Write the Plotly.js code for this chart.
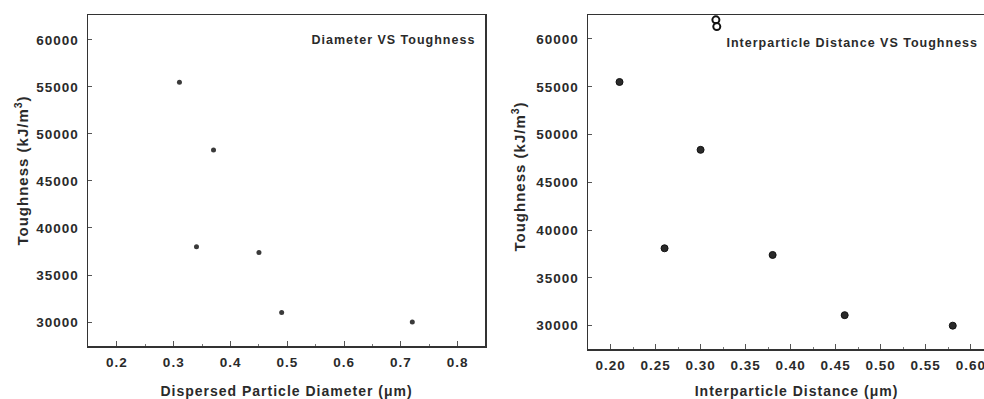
<!DOCTYPE html>
<html>
<head>
<meta charset="utf-8">
<script src="https://cdn.plot.ly/plotly-3.0.1.min.js"></script>
<style>
html,body{margin:0;padding:0;background:#fff;overflow:hidden;}
#chart{width:1010px;height:399px;}
#chart svg text{letter-spacing:1px;}
</style>
</head>
<body>
<div id="chart"></div>
<script>
// Left panel: dispersed particle diameter vs toughness
const diameter = [0.31, 0.34, 0.37, 0.45, 0.49, 0.72];
const toughnessD = [55500, 38000, 48300, 37400, 31000, 30000];
// Right panel: interparticle distance vs toughness
const distance = [0.21, 0.26, 0.30, 0.38, 0.46, 0.58];
const toughnessI = [55500, 38100, 48400, 37400, 31100, 30000];
// Open markers at top of right panel
const openX = [0.317, 0.318];
const openY = [62000, 61300];

const leftXTicks = [0.2, 0.3, 0.4, 0.5, 0.6, 0.7, 0.8];
const leftXLabels = ['0.2', '0.3', '0.4', '0.5', '0.6', '0.7', '0.8'];
const rightXTicks = [0.20, 0.25, 0.30, 0.35, 0.40, 0.45, 0.50, 0.55, 0.60];
const rightXLabels = ['0.20', '0.25', '0.30', '0.35', '0.40', '0.45', '0.50', '0.55', '0.60'];
const yTicks = [30000, 35000, 40000, 45000, 50000, 55000, 60000];
const yLabels = ['30000', '35000', '40000', '45000', '50000', '55000', '60000'];

const W = 1010, H = 399;
const FONT = '"Liberation Sans", Arial, sans-serif';
const ink = '#2a2a2a';

const traces = [
  {x: diameter, y: toughnessD, type: 'scatter', mode: 'markers', xaxis: 'x', yaxis: 'y',
   marker: {size: 5, color: '#3a3a3a'}, showlegend: false},
  {x: distance, y: toughnessI, type: 'scatter', mode: 'markers', xaxis: 'x2', yaxis: 'y2',
   marker: {size: 7, color: '#2a2a2a', line: {color: '#111', width: 1}}, showlegend: false},
  {x: openX, y: openY, type: 'scatter', mode: 'markers', xaxis: 'x2', yaxis: 'y2',
   marker: {size: 7, symbol: 'circle-open', color: '#111', line: {width: 2}}, showlegend: false, cliponaxis: false}
];

const tickFont = {family: FONT, size: 13.5, color: ink, weight: 'bold'};
const titleFont = {family: FONT, size: 14, color: ink, weight: 'bold'};

function xAxis(domain, range, tv, tt, minorDtick, title, anchor) {
  return {
    domain: domain, range: range, anchor: anchor,
    tickmode: 'array', tickvals: tv, ticktext: tt,
    ticks: 'inside', ticklen: 5, tickwidth: 1, tickcolor: '#555',
    minor: {dtick: minorDtick, ticks: 'inside', ticklen: 2, tickcolor: '#777', showgrid: false},
    showline: true, linecolor: '#333', linewidth: 1.5, mirror: true,
    showgrid: false, zeroline: false,
    tickfont: tickFont, ticklabelstandoff: 3,
    title: {text: title, font: titleFont, standoff: 17}
  };
}
function yAxis(domain, range, anchor) {
  return {
    domain: domain, range: range, anchor: anchor,
    tickmode: 'array', tickvals: yTicks, ticktext: yLabels,
    ticks: 'inside', ticklen: 4, tickwidth: 1, tickcolor: '#555',
    showline: true, linecolor: '#333', linewidth: 1.5, mirror: true,
    showgrid: false, zeroline: false,
    tickfont: tickFont, ticklabelstandoff: 5
  };
}

const yTitle = 'Toughness (kJ/m<sup>3</sup>)';
const yTitleFont = {family: FONT, size: 15, color: ink, weight: 'bold'};

const layout = {
  width: W, height: H,
  margin: {l: 0, r: 0, t: 0, b: 0},
  paper_bgcolor: '#fff', plot_bgcolor: '#fff',
  font: {family: FONT, color: ink},
  xaxis: xAxis([88 / W, 485 / W], [0.149, 0.848], leftXTicks, leftXLabels, 0.05,
               'Dispersed Particle Diameter (μm)', 'y'),
  yaxis: yAxis([(H - 346) / H, (H - 15) / H], [27450, 62650], 'x'),
  xaxis2: xAxis([588 / W, 1005 / W], [0.175, 0.638], rightXTicks, rightXLabels, 0.025,
                'Interparticle Distance (μm)', 'y2'),
  yaxis2: yAxis([(H - 349) / H, (H - 15) / H], [27560, 62510], 'x2'),
  annotations: [
    {text: 'Diameter VS Toughness', xref: 'paper', yref: 'paper', x: 467 / W, y: (H - 40) / H,
     xanchor: 'right', yanchor: 'middle', showarrow: false,
     font: {family: FONT, size: 12.5, color: ink, weight: 'bold'}},
    {text: 'Interparticle Distance VS Toughness', xref: 'paper', yref: 'paper', x: 742 / W, y: (H - 43) / H,
     xanchor: 'left', yanchor: 'middle', showarrow: false,
     font: {family: FONT, size: 12.5, color: ink, weight: 'bold'}},
    {text: yTitle, xref: 'paper', yref: 'paper', x: 21 / W, y: (H - 171) / H,
     xanchor: 'center', yanchor: 'middle', textangle: -90, showarrow: false, font: yTitleFont},
    {text: yTitle, xref: 'paper', yref: 'paper', x: 518 / W, y: (H - 177) / H,
     xanchor: 'center', yanchor: 'middle', textangle: -90, showarrow: false, font: yTitleFont}
  ]
};

Plotly.newPlot('chart', traces, layout, {displayModeBar: false, staticPlot: true});
</script>
</body>
</html>
